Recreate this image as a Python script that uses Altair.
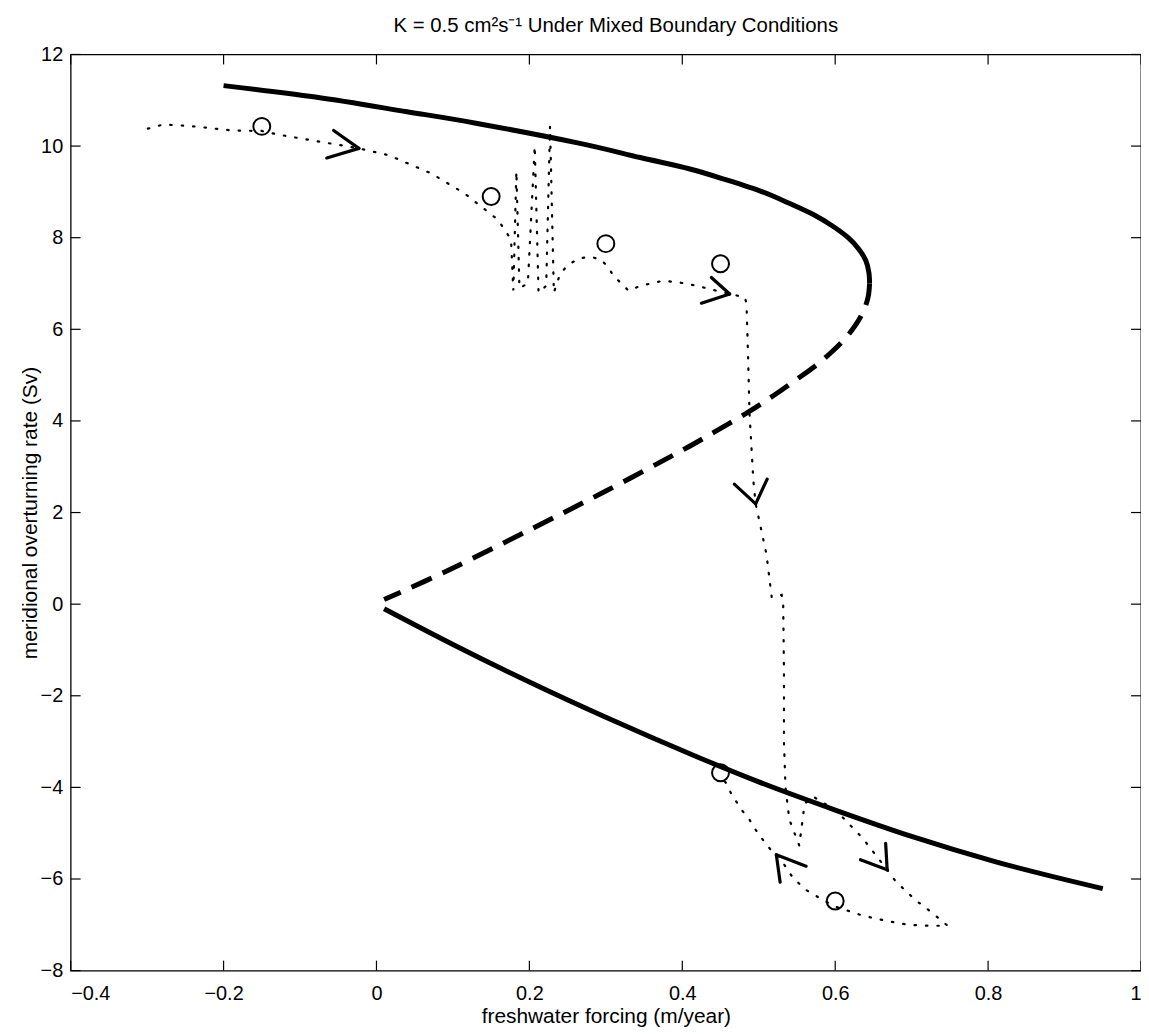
import altair as alt
import pandas as pd

# ---- data ----
upper_x = [-0.2, -0.08, 0.04, 0.13, 0.263, 0.345, 0.41, 0.46, 0.505, 0.54, 0.572, 0.597, 0.617, 0.631, 0.64, 0.644, 0.645]
upper_y = [11.32, 11.07, 10.75, 10.5, 10.07, 9.75, 9.5, 9.25, 9.0, 8.75, 8.5, 8.25, 8.0, 7.75, 7.5, 7.25, 7.0]

unstable_x = [0.645, 0.643, 0.637, 0.627, 0.613, 0.595, 0.574, 0.549, 0.52, 0.484, 0.44, 0.4, 0.3, 0.2, 0.094, 0.01]
unstable_y = [7.0, 6.7, 6.4, 6.1, 5.8, 5.5, 5.2, 4.9, 4.56, 4.17, 3.74, 3.36, 2.47, 1.62, 0.74, 0.1]

lower_x = [0.01, 0.1, 0.2, 0.3, 0.419, 0.5, 0.601, 0.7, 0.809, 0.95]
lower_y = [-0.1, -0.88, -1.70, -2.47, -3.33, -3.88, -4.50, -5.07, -5.62, -6.21]

traj_x = [-0.299, -0.279, -0.245, -0.188, -0.15, -0.128, -0.058, -0.023, 0.016, 0.072, 0.115, 0.159, 0.176,
          0.179, 0.183, 0.187, 0.198, 0.207, 0.212, 0.222, 0.227, 0.232, 0.24,
          0.25, 0.265, 0.28, 0.293, 0.302, 0.31, 0.33, 0.345, 0.375, 0.397, 0.419, 0.462, 0.482, 0.484, 0.486,
          0.488, 0.493, 0.496, 0.51, 0.517, 0.52, 0.53, 0.532, 0.533, 0.533, 0.535, 0.54, 0.553,
          0.56, 0.571, 0.601, 0.636, 0.668, 0.679, 0.705, 0.727, 0.747,
          0.722, 0.696, 0.666, 0.636, 0.618, 0.6, 0.584, 0.562, 0.545, 0.526, 0.516, 0.501, 0.493,
          0.487, 0.478, 0.464, 0.458, 0.452]
traj_y = [10.38, 10.47, 10.44, 10.34, 10.33, 10.25, 10.05, 9.95, 9.8, 9.4, 8.97, 8.39, 7.96,
          6.85, 9.45, 6.9, 7.0, 10.0, 6.8, 6.95, 10.44, 6.8, 7.2,
          7.4, 7.55, 7.58, 7.53, 7.38, 7.17, 6.84, 6.95, 7.06, 7.02, 6.95, 6.77, 6.7, 6.55, 5.44,
          4.14, 2.69, 2.19, 1.1, 0.15, 0.15, 0.2, 0.0, -1.5, -3.0, -4.0, -4.7, -5.27,
          -4.36, -4.2, -4.5, -5.11, -5.8, -6.05, -6.46, -6.74, -7.02,
          -7.02, -7.0, -6.91, -6.8, -6.7, -6.6, -6.46, -6.24, -5.98, -5.5, -5.37, -5.05, -4.85,
          -4.68, -4.5, -4.14, -3.92, -3.8]

circle_x = [-0.15, 0.15, 0.30, 0.45, 0.45, 0.60]
circle_y = [10.43, 8.9, 7.87, 7.43, -3.68, -6.48]

# arrow chevrons: tip and arm ends
arrow_tip_x = [-0.023, -0.023, 0.462, 0.462, 0.496, 0.496, 0.668, 0.668, 0.523, 0.523]
arrow_tip_y = [9.95, 9.95, 6.77, 6.77, 2.19, 2.19, -5.8, -5.8, -5.47, -5.47]
arrow_end_x = [-0.056, -0.065, 0.438, 0.425, 0.468, 0.511, 0.666, 0.633, 0.562, 0.528]
arrow_end_y = [10.34, 9.74, 7.13, 6.57, 2.62, 2.73, -5.22, -5.58, -5.72, -6.07]

x_ticks = [-0.4, -0.2, 0, 0.2, 0.4, 0.6, 0.8, 1.0]
y_ticks = [-8, -6, -4, -2, 0, 2, 4, 6, 8, 10, 12]

W, H = 1076, 921
FONT = "Liberation Sans, Arial, Helvetica, sans-serif"


def frame(xs, ys):
    return pd.DataFrame({"x": xs, "y": ys, "i": list(range(len(xs)))})


xs = alt.Scale(domain=[-0.4, 1.0], nice=False, zero=False)
ys = alt.Scale(domain=[-8, 12], nice=False, zero=False)

xenc = alt.X("x:Q", scale=xs, axis=alt.Axis(values=x_ticks, format="~g",
                                            title="freshwater forcing (m/year)"))
yenc = alt.Y("y:Q", scale=ys, axis=alt.Axis(values=y_ticks, format="~g",
                                            title="meridional overturning rate (Sv)"))


def line(df, **kw):
    return alt.Chart(df).mark_line(color="black", **kw).encode(x=xenc, y=yenc, order="i:Q")


upper = line(frame(upper_x, upper_y), strokeWidth=5, interpolate="cardinal", strokeCap="butt")
unstable = line(frame(unstable_x, unstable_y), strokeWidth=5, strokeDash=[22, 12], interpolate="cardinal")
lower = line(frame(lower_x, lower_y), strokeWidth=5, interpolate="monotone")
traj = line(frame(traj_x, traj_y), strokeWidth=2.2, strokeDash=[1.5, 10], strokeCap="round")

circles = alt.Chart(frame(circle_x, circle_y)).mark_point(
    shape="circle", size=290, filled=False, color="black", strokeWidth=2, opacity=1
).encode(x=xenc, y=yenc)

arrows_df = pd.DataFrame({"x": arrow_tip_x, "y": arrow_tip_y, "x2": arrow_end_x, "y2": arrow_end_y})
arrows = alt.Chart(arrows_df).mark_rule(color="black", strokeWidth=3.2, strokeCap="round").encode(
    x=xenc, y=yenc, x2="x2:Q", y2="y2:Q")

xt = pd.DataFrame({"x": x_ticks})
yt = pd.DataFrame({"y": y_ticks})
tick_style = dict(color="black", strokeWidth=1.2)
xt_bottom = alt.Chart(xt).mark_rule(**tick_style).encode(x=xenc, y=alt.value(H), y2=alt.value(H - 10))
xt_top = alt.Chart(xt).mark_rule(**tick_style).encode(x=xenc, y=alt.value(0), y2=alt.value(10))
yt_left = alt.Chart(yt).mark_rule(**tick_style).encode(y=yenc, x=alt.value(0), x2=alt.value(10))
yt_right = alt.Chart(yt).mark_rule(**tick_style).encode(y=yenc, x=alt.value(W), x2=alt.value(W - 10))

chart = alt.layer(
    upper, unstable, lower, traj, circles, arrows, xt_bottom, xt_top, yt_left, yt_right
).properties(
    width=W, height=H,
    autosize=alt.AutoSizeParams(type="none"),
    padding={"left": 63, "top": 44, "right": 0, "bottom": 60},
    title=alt.TitleParams("K = 0.5 cm²s⁻¹ Under Mixed Boundary Conditions",
                          font=FONT, fontSize=20.5, fontWeight="normal", color="black",
                          anchor="middle", offset=8, dx=10),
).configure_view(
    stroke="black", strokeWidth=1.3
).configure_axis(
    grid=False, domain=False, ticks=False,
    labelFont=FONT, labelFontSize=20, labelColor="black",
    titleFont=FONT, titleFontSize=21, titleFontWeight="normal", titleColor="black",
).configure_axisX(
    labelPadding=13, titlePadding=2
).configure_axisY(
    labelPadding=8, titlePadding=0
)

chart.save("out.html", embed_options={"renderer": "svg", "actions": False})
